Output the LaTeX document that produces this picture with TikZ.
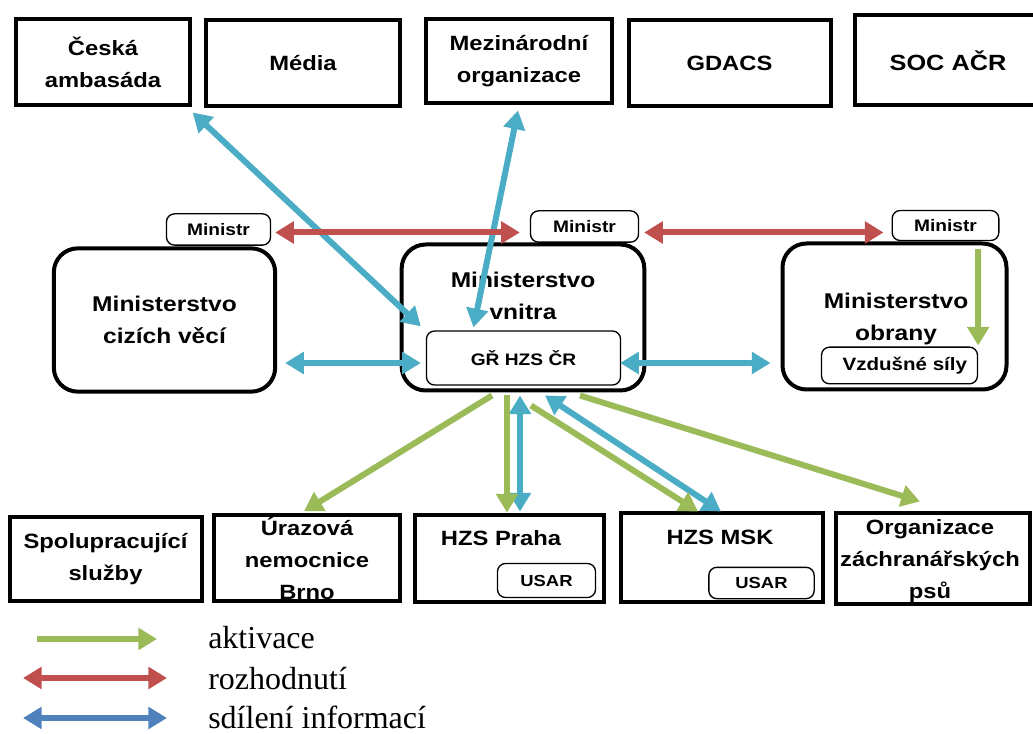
\documentclass[tikz,border=0pt]{standalone}
\usepackage{fontspec}
\usepackage{tikz}
\usetikzlibrary{arrows.meta,calc}
\setmainfont{Liberation Serif}
\newfontfamily\boxfont[FakeStretch=1.15]{Liberation Sans}
\definecolor{aktivgreen}{HTML}{9BBB59}
\definecolor{rozhred}{HTML}{C0504D}
\definecolor{sdilblue}{HTML}{4BACC6}
\definecolor{legblue}{HTML}{4F81BD}

\begin{document}
\begin{tikzpicture}[x=0.75pt,y=-0.75pt,
  >={Triangle[width=16pt,length=14pt]},
  box/.style={draw,line width=3pt,inner sep=0pt,align=center,
    font=\boxfont\bfseries\fontsize{15.5}{24}\selectfont},
  minbox/.style={draw,line width=1pt,rounded corners=6pt,inner sep=0pt,
    font=\boxfont\bfseries\fontsize{12.5}{15}\selectfont},
  ministry/.style={box,rounded corners=18pt,
    font=\boxfont\bfseries\fontsize{16}{24}\selectfont},
  lbl/.style={align=center,font=\boxfont\bfseries\fontsize{16}{24}\selectfont},
  aktiv/.style={->,draw=aktivgreen,line width=4.5pt},
  rozhod/.style={<->,draw=rozhred,line width=4.5pt},
  sdil/.style={<->,draw=sdilblue,line width=4.5pt},
  legtext/.style={anchor=base west,font=\fontsize{24}{28}\selectfont,inner sep=0pt}]
\useasboundingbox (0,0) rectangle (1033,734);

\node[box,minimum width=130pt,minimum height=64.5pt] (amb) at (103,62.5) {Česká\\ambasáda};
\node[box,minimum width=145pt,minimum height=64.5pt] (media) at (303,63.5) {Média};
\node[box,minimum width=139pt,minimum height=63pt] (mezi) at (519,61.5) {Mezinárodní\\organizace};
\node[box,minimum width=151.5pt,minimum height=65pt] (gdacs) at (729.5,63) {GDACS};
\node[box,minimum width=139pt,minimum height=67.5pt,
  font=\boxfont\bfseries\fontsize{16.5}{24}\selectfont] (soc) at (948,60.5) {SOC AČR};

\node[minbox,minimum width=78pt,minimum height=23.5pt] (minL) at (218.5,229.5) {Ministr};
\node[minbox,minimum width=81pt,minimum height=23.5pt] (minC) at (584.5,226.5) {Ministr};
\node[minbox,minimum width=80pt,minimum height=22.5pt] (minR) at (945.5,225.5) {Ministr};

\node[ministry,minimum width=166pt,minimum height=107.5pt] (mzv) at (164.5,320) {Ministerstvo\\cizích věcí};
\node[ministry,minimum width=182pt,minimum height=109.5pt] (mv) at (523,317.5) {};
\node[lbl] (mvtext) at (523,296) {Ministerstvo\\vnitra};
\node[minbox,minimum width=145.5pt,minimum height=40.5pt] (gr) at (523.5,358) {GŘ HZS ČR};
\node[ministry,minimum width=168pt,minimum height=109.5pt] (mo) at (894.5,316.5) {};
\node[lbl] (motext) at (896,319) {Ministerstvo\\obrany};
\node[minbox,minimum width=117pt,minimum height=27.5pt,
  font=\boxfont\bfseries\fontsize{13.4}{15}\selectfont] (vs) at (899.5,365.5) {\hspace{8pt}Vzdušné síly};

\node[box,minimum width=144pt,minimum height=62.5pt] (spol) at (105.5,559) {Spolupracující\\služby};
\node[box,minimum width=140pt,minimum height=64pt] (uraz) at (307,558) {Úrazová\\nemocnice\\Brno};
\node[box,minimum width=141.75pt,minimum height=64.5pt] (praha) at (509,558.5) {};
\node[lbl,font=\boxfont\bfseries\fontsize{15.5}{24}\selectfont] (prahatext) at (501,538) {HZS Praha};
\node[minbox,minimum width=73.5pt,minimum height=25.5pt,
  font=\boxfont\bfseries\fontsize{12}{15}\selectfont] (usar1) at (546.5,580.5) {USAR};
\node[box,minimum width=152pt,minimum height=66pt] (msk) at (722,557.5) {};
\node[lbl,font=\boxfont\bfseries\fontsize{15.5}{24}\selectfont] (msktext) at (720,537) {HZS MSK};
\node[minbox,minimum width=79pt,minimum height=23.5pt,
  font=\boxfont\bfseries\fontsize{12}{15}\selectfont] (usar2) at (761.5,583) {USAR};
\node[box,minimum width=145.5pt,minimum height=67.5pt] (org) at (932.5,558.5) {};
\node[lbl,font=\boxfont\bfseries\fontsize{15.5}{24}\selectfont] (orgtext) at (930,561) {Organizace\\záchranářských\\psů};

\draw[sdil] ($(amb.south east)+(1,5)$) -- ($(gr.north west)+(-5,-4)$);
\draw[sdil] ($(mezi.south)+(-1,5)$) -- ($(gr.north)+(-50,-3)$);
\draw[sdil] ($(gr.west -| mzv.east)+(8,5)$) -- ($(gr.west)+(-5,5)$);
\draw[sdil] ($(gr.east)+(-1,5)$) -- ($(gr.east -| mo.west)+(-10,5)$);
\draw[sdil] ($(mv.south)+(-3,3)$) -- ($(praha.north)+(11,-2)$);
\draw[sdil] ($(mv.south)+(22,3)$) -- ($(msk.north)+(-1,0)$);

\draw[aktiv] ($(mv.south)+(-31,3)$) -- ($(uraz.north)+(-3,-2)$);
\draw[aktiv] ($(mv.south)+(-16,3)$) -- ($(praha.north)+(-2,-1)$);
\draw[aktiv] ($(mv.south)+(8,13)$) -- ($(msk.north)+(-24,0)$);
\draw[aktiv] ($(mv.south)+(57,3)$) -- ($(org.north)+(-12.5,-10)$);
\draw[aktiv] ($(minR.south)+(32.5,8)$) -- ($(vs.north east)+(0,-1)$);

\draw[rozhod] ($(minL.east)+(4,3)$) -- ($(minC.west)+(-10,6)$);
\draw[rozhod] ($(minC.east)+(5,6)$) -- ($(minR.west)+(-8,7)$);

\coordinate (ga) at (37,639);
\coordinate (gb) at (157,639);
\coordinate (ra) at (23,678);
\coordinate (rb) at (167,678);
\coordinate (ba) at (23,718);
\coordinate (bb) at (167,718);
\draw[aktiv] (ga) -- (gb);
\draw[rozhod] (ra) -- (rb);
\draw[sdil,draw=legblue] (ba) -- (bb);
\node[legtext] (legakt) at (208,648) {aktivace};
\node[legtext] (legroz) at (208,689) {rozhodnutí};
\node[legtext] (legsdil) at (208,728) {sdílení informací};
\end{tikzpicture}
\end{document}
